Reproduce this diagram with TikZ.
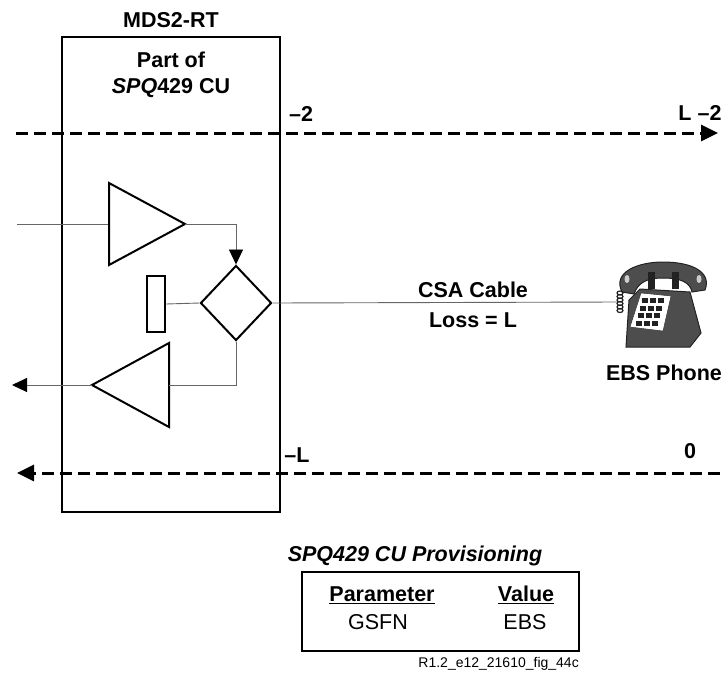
\documentclass[tikz,border=0pt]{standalone}
\usepackage{fontspec}
\setmainfont{Liberation Sans}
\usetikzlibrary{arrows.meta,shapes.geometric}
\definecolor{phonegray}{HTML}{4D4D4D}
\definecolor{phonedark}{HTML}{222222}
\tikzset{
  txt/.style={font=\bfseries\fontsize{21.5}{26}\selectfont, inner sep=0pt},
  plain/.style={font=\fontsize{21.5}{26}\selectfont, inner sep=0pt},
  level/.style={line width=3pt, dash pattern=on 12pt off 6pt,
    -{Triangle[length=17pt,width=16pt]}},
  sig/.style={line width=0.9pt, black!60},
  part/.style={draw, line width=2pt},
  tip/.style={-{Triangle[length=15pt,width=14pt,color=black]}},
}
\begin{document}
\begin{tikzpicture}[x=1pt,y=-1pt]
\useasboundingbox (0,0) rectangle (728,678);

% channel unit
\draw[line width=2.5pt] (62,37) rectangle (280,512);
\node[txt] (mds) at (171,20) {MDS2-RT};
\node[txt, align=center] (cu) at (171,75) {Part of\\\textit{SPQ}429 CU};

% transmission levels
\coordinate (topL) at (16,133);
\coordinate (topR) at (718,133);
\coordinate (botR) at (720,473);
\coordinate (botL) at (17,473);
\draw[level] (topL) -- (topR);
\draw[level] (botR) -- (botL);
\node[txt] (lvA) at (301,114) {\textendash2};
\node[txt] (lvB) at (700,113) {L \textendash2};
\node[txt] (lvC) at (297,455) {\textendash L};
\node[txt] (lvD) at (690,451) {0};

% transmit amplifier
\coordinate (in) at (17,224);
\coordinate (tx) at (109,224);
\coordinate (txo) at (185,224);
\draw[sig] (in) -- (tx);
\draw[part] (109,183) -- (txo) -- (109,265) -- cycle;

% hybrid and balance network
\node[diamond, part, minimum width=71pt, minimum height=75pt, inner sep=0pt] (hyb) at (236,303) {};
\node[rectangle, part, minimum width=18pt, minimum height=56pt, inner sep=0pt] (bal) at (156,304) {};
\draw[sig, tip] (txo) -| (hyb.north);
\draw[sig] (bal.east) -- (hyb.west);

% receive amplifier
\coordinate (rx) at (169,385);
\coordinate (rxo) at (92,385);
\coordinate (out) at (12,385);
\draw[part] (169,343) -- (rxo) -- (169,427) -- cycle;
\draw[sig] (hyb.south) |- (rx);
\draw[sig, tip] (rxo) -- (out);

% loop to the phone
\coordinate (set) at (617,302);
\draw[sig] (hyb.east) -- (set);
\node[txt] (csa) at (473,290) {CSA Cable};
\node[txt] (loss) at (473,320) {Loss = L};

% desk phone
\draw[phonedark, line width=1pt, fill=phonegray]
  (626,347) -- (690,347) -- (701,333) -- (690,292) -- (640,289) -- (629,300) -- cycle;
\draw[phonedark, line width=1pt, fill=phonegray]
  (622,292) .. controls (612,272) and (638,262) .. (663,262)
  .. controls (692,262) and (712,272) .. (705,290)
  -- (692,292) .. controls (690,282) and (680,278) .. (663,278)
  .. controls (646,278) and (638,283) .. (634,294) -- cycle;
\fill[phonedark] (648,272) rectangle (655,289);
\fill[phonedark] (672,272) rectangle (679,289);
\fill[white!80!black] (627,279) ellipse (2.5pt and 4pt);
\fill[white!80!black] (699,279) ellipse (2.5pt and 4pt);
\draw[phonedark, fill=white] (641,293) -- (671,296) -- (663,331) -- (630,327) -- cycle;
\foreach \Row in {0,1,2,3}
  \foreach \Col in {0,1,2}
    \fill[phonedark] ({642+8*\Col-2*\Row},{298+7.5*\Row}) rectangle ++(6,5);
\foreach \Turn in {0,...,5}
  \draw[phonedark, line width=1.2pt] (620,{293+3.5*\Turn}) ellipse (3pt and 2pt);
\node[txt] (ebs) at (664,373) {EBS Phone};

% provisioning table
\node[txt, font=\bfseries\itshape\fontsize{21.5}{26}\selectfont] (prov) at (415,556) {SPQ429 CU Provisioning};
\draw[line width=2.5pt] (302,572) rectangle (579,651);
\node[txt] (hdrA) at (382,595) {\underline{Parameter}};
\node[txt] (hdrB) at (526,595) {\underline{Value}};
\node[plain] (valA) at (378,622) {GSFN};
\node[plain] (valB) at (525,622) {EBS};
\node[font=\fontsize{14}{16}\selectfont, inner sep=0pt, anchor=east] (fig) at (579,664) {R1.2\_e12\_21610\_fig\_44c};
\end{tikzpicture}
\end{document}
